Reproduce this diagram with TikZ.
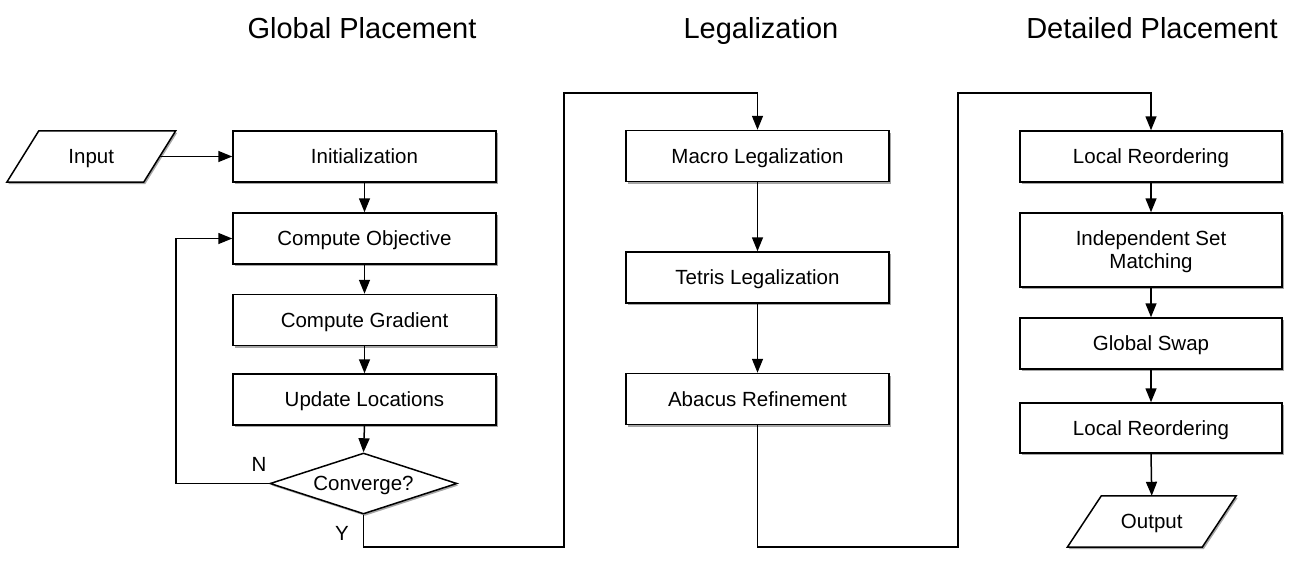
\documentclass[tikz,border=0pt]{standalone}
\usepackage{fontspec}
\setmainfont{Liberation Sans}
\usetikzlibrary{shapes.geometric,arrows.meta,shadows}
\begin{document}
\begin{tikzpicture}[x=1pt,y=-1pt,
  boxfont/.style={font=\fontsize{20.5}{23}\selectfont},
  capcenter/.style={text height=14.7pt,text depth=0pt},
  stepbox/.style={draw,line width=1.5pt,fill=white,rectangle,inner sep=0pt,
    minimum width=263pt,minimum height=51pt,boxfont,capcenter,align=center,
    drop shadow={shadow xshift=1.5pt,shadow yshift=-2pt,opacity=0.35,fill=black}},
  iobox/.style={rectangle,inner sep=0pt,minimum height=51pt,boxfont,capcenter},
  decbox/.style={diamond,draw,line width=1.5pt,fill=white,inner sep=0pt,aspect=3,
    minimum width=187pt,minimum height=61pt,boxfont,capcenter,
    drop shadow={shadow xshift=1.5pt,shadow yshift=-2pt,opacity=0.35,fill=black}},
  title/.style={font=\fontsize{29}{33}\selectfont,anchor=base},
  lbl/.style={boxfont},
  arr/.style={line width=1.5pt,-{Triangle[length=14pt,width=11pt]}}]
\useasboundingbox (0,0) rectangle (1289,560);

% titles
\node[title] (t1) at (362,38) {Global Placement};
\node[title] (t2) at (761,38) {Legalization};
\node[title] (t3) at (1152,38) {Detailed Placement};

% column 1
\node[iobox,minimum width=136.5pt] (input) at (91.25,156.5) {};
\fill[black,opacity=0.35] ([xshift=17.5pt,yshift=-2pt]input.north west) -- ([xshift=17.5pt,yshift=-2pt]input.north east) -- ([xshift=-14.5pt,yshift=-2pt]input.south east) -- ([xshift=-14.5pt,yshift=-2pt]input.south west) -- cycle;
\draw[line width=1.5pt,fill=white] ([xshift=16pt]input.north west) -- ([xshift=16pt]input.north east) -- ([xshift=-16pt]input.south east) -- ([xshift=-16pt]input.south west) -- cycle;
\node[iobox,minimum width=136.5pt] (inputtext) at (input.center) {Input};

\node[stepbox] (init) at (364.5,156.5) {Initialization};
\node[stepbox] (co) at (364.5,238.5) {Compute Objective};
\node[stepbox] (cg) at (364.5,320) {Compute Gradient};
\node[stepbox] (ul) at (364.5,399.5) {Update Locations};
\node[decbox] (conv) at (363.5,483.5) {Converge?};
\node[lbl] (nl) at (259,464) {N};
\node[lbl] (yl) at (342,533) {Y};

% column 2
\node[stepbox] (macro) at (757.5,156) {Macro Legalization};
\node[stepbox] (tetris) at (757.5,277.5) {Tetris Legalization};
\node[stepbox] (abacus) at (757.5,399) {Abacus Refinement};

% column 3
\node[stepbox,minimum width=262pt] (lr1) at (1151,156.5) {Local Reordering};
\node[stepbox,minimum width=262pt,minimum height=74pt,text height=37.7pt] (ism) at (1151,250) {Independent Set\\Matching};
\node[stepbox,minimum width=262pt] (gs) at (1151,343.5) {Global Swap};
\node[stepbox,minimum width=262pt,minimum height=50pt] (lr2) at (1151,428) {Local Reordering};

\node[iobox,minimum width=134.5pt] (output) at (1151.75,521.5) {};
\fill[black,opacity=0.35] ([xshift=18.5pt,yshift=-2pt]output.north west) -- ([xshift=18.5pt,yshift=-2pt]output.north east) -- ([xshift=-15.5pt,yshift=-2pt]output.south east) -- ([xshift=-15.5pt,yshift=-2pt]output.south west) -- cycle;
\draw[line width=1.5pt,fill=white] ([xshift=17pt]output.north west) -- ([xshift=17pt]output.north east) -- ([xshift=-17pt]output.south east) -- ([xshift=-17pt]output.south west) -- cycle;
\node[iobox,minimum width=134.5pt] (outputtext) at (output.center) {Output};

% connector coordinates
\coordinate (lp) at (176,483.5);
\coordinate (b1) at (564,547);
\coordinate (u1) at (564,93);
\coordinate (b2) at (958,547);
\coordinate (u2) at (958,93);

% connectors
\draw[arr] (input.east) -- (init.west);
\draw[arr] (init.south) -- (co.north);
\draw[arr] (co.south) -- (cg.north);
\draw[arr] (cg.south) -- (ul.north);
\draw[arr] (ul.south) -- (conv.north);
\draw[arr] (conv.west) -- (lp) |- (co.west);
\draw[arr] (conv.south) |- (b1) -- (u1) -| (macro.north);
\draw[arr] (macro.south) -- (tetris.north);
\draw[arr] (tetris.south) -- (abacus.north);
\draw[arr] (abacus.south) |- (b2) -- (u2) -| (lr1.north);
\draw[arr] (lr1.south) -- (ism.north);
\draw[arr] (ism.south) -- (gs.north);
\draw[arr] (gs.south) -- (lr2.north);
\draw[arr] (lr2.south) -- (output.north);
\end{tikzpicture}
\end{document}
